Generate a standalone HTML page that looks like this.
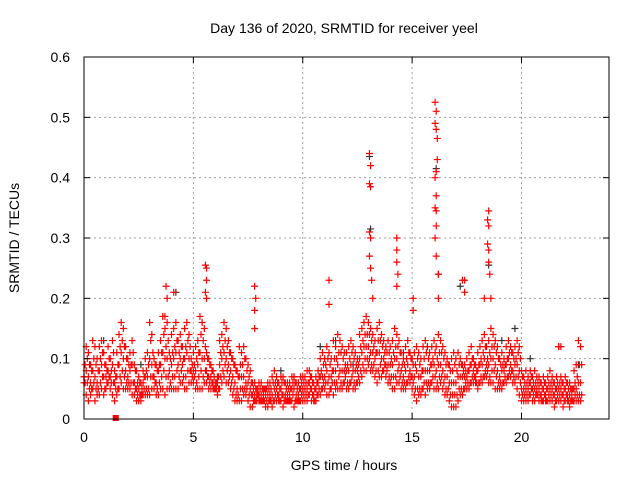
<!DOCTYPE html>
<html><head><meta charset="utf-8"><style>
body{margin:0;background:#fff;}
svg{display:block;font-family:"Liberation Sans",sans-serif;}
</style></head><body>
<svg id="chart" width="640" height="480" viewBox="0 0 640 480">
<rect width="640" height="480" fill="#fff"/>
<g id="grid"></g>
<g id="marks"></g>
<rect x="84" y="57" width="525" height="362" fill="none" stroke="#000" stroke-width="1"/>
<g id="ticks"></g>
<text x="344" y="33" font-size="14" text-anchor="middle">Day 136 of 2020, SRMTID for receiver yeel</text>
<text x="344" y="470" font-size="14" text-anchor="middle">GPS time / hours</text>
<text x="0" y="0" font-size="14" text-anchor="middle" transform="translate(19,238) rotate(-90)">SRMTID / TECUs</text>
</svg>
<script>
const xTicks=[0,5,10,15,20];
const yTicks=[0,0.1,0.2,0.3,0.4,0.5,0.6];
const yTickLabels=["0","0.1","0.2","0.3","0.4","0.5","0.6"];
const startHour=0, stepHour=0.1, offsetHour=0.05;
const redHi=[7,12,11,9,13,12,10,12,13,11, 9,12,10,13,8,11,14,16,15,12, 10,11,13,9,8,7,6,8,10,11, 16,14,10,9,11,13,17,15,16,11, 14,15,16,13,14,12,15,16,14,10, 11,12,13,17,16,15,11,10,9,8, 6,7,13,14,16,15,13,11,10,9, 8,12,11,12,10,9,8,6,6,5, 6,6,5,5,6,6,7,8,7,6, 7,7,6,6,6,7,7,6,6,7, 7,7,8,8,7,6,7,8,10,11, 10,12,11,10,13,12,14,13,12,11, 11,12,13,12,11,10,14,15,16,17, 16,15,14,13,15,16,14,13,12,13, 12,13,15,14,13,11,10,12,13,11, 10,11,12,11,10,12,13,12,11,12, 13,12,14,13,12,11,10,9,10,11, 10,11,10,9,9,10,11,12,10,9, 11,12,13,14,12,13,15,14,13,12, 10,11,10,12,13,12,11,12,13,12, 8,7,8,7,8,7,8,7,7,6, 7,6,7,8,7,6,7,12,7,6, 7,6,6,5,8,9,13,12];
const redUp=[9,10,9,8,10,9,8,10,11,9, 8,10,8,11,7,9,12,13,12,10, 9,9,11,8,6,6,5,7,8,9, 13,11,9,8,9,11,14,12,13,10, 11,12,13,11,12,10,12,13,12,9, 9,10,11,14,13,12,10,9,8,7, 6,7,11,12,13,12,11,10,9,8, 7,9,9,10,8,7,6,5,5,5, 5,5,5,5,5,5,6,6,6,5, 6,6,5,5,5,6,6,5,5,6, 6,6,6,7,6,5,6,7,8,9, 9,10,9,8,10,10,11,11,10,9, 9,10,11,10,9,9,12,13,14,14, 14,13,12,11,13,13,12,11,11,11, 10,11,12,12,11,9,9,10,11,10, 9,9,10,9,8,10,11,10,9,10, 11,10,11,11,10,9,9,8,8,9, 8,9,9,8,8,8,9,10,9,8, 9,10,11,12,10,11,12,12,11,10, 9,9,9,10,11,11,10,10,11,10, 7,6,6,6,7,6,6,6,6,5, 6,5,6,6,6,5,6,6,6,5, 6,5,5,5,6,7,9,9];
const redMid=[7,8,7,6,8,7,6,8,9,7, 7,8,7,9,6,7,9,11,10,8, 7,8,9,6,5,5,4,6,7,7, 10,9,7,6,8,9,11,10,10,8, 9,10,11,9,10,9,10,11,10,8, 8,8,9,11,10,10,8,7,7,6, 5,6,9,10,11,10,9,8,7,6, 5,7,7,7,6,6,5,4,4,4, 4,4,4,4,4,4,4,5,5,4, 5,4,4,4,4,5,5,4,4,5, 5,5,5,6,5,4,5,6,7,7, 7,8,7,7,8,8,9,8,8,8, 8,8,9,8,8,8,10,11,12,12, 12,11,11,10,11,11,10,10,9,9, 9,9,10,10,9,8,7,8,9,8, 7,7,8,7,7,8,8,8,8,9, 9,8,9,9,8,7,7,6,6,6, 6,7,7,7,7,7,8,9,8,7, 8,9,9,10,9,9,10,10,9,8, 7,8,8,9,10,9,8,9,9,8, 5,5,5,5,6,5,5,5,5,4, 5,4,5,5,5,4,5,5,5,4, 5,4,4,4,5,5,6,6];
const redDown=[6,6,5,5,6,5,5,6,7,5, 6,7,6,6,5,5,7,8,7,6, 6,6,6,5,4,4,4,5,5,5, 7,7,6,5,6,7,8,7,7,6, 7,7,8,7,8,7,7,8,8,7, 7,6,7,8,7,8,7,6,6,5, 5,5,7,8,9,8,7,6,5,4, 4,5,5,5,5,4,4,3,3,4, 3,3,3,3,3,3,3,4,4,3, 4,3,3,3,3,4,3,3,3,4, 4,4,4,5,4,3,4,5,5,6, 6,6,5,6,6,6,7,6,6,7, 6,6,7,6,6,7,8,9,10,10, 10,9,9,8,8,9,8,9,8,7, 7,7,7,8,7,6,6,6,7,7, 6,5,5,5,5,6,6,6,6,7, 7,6,7,7,6,5,5,4,4,4, 4,5,5,5,6,6,6,7,7,6, 6,7,7,8,8,7,8,8,7,6, 6,6,7,7,8,8,7,7,7,6, 4,4,4,4,5,4,4,4,4,3, 4,3,4,4,4,3,4,4,4,3, 4,3,3,3,4,4,4,4];
const redLo=[6,4,3,4,5,3,4,4,5,4, 5,6,5,4,3,4,5,6,5,5, 5,5,4,4,3,3,3,4,4,4, 4,5,5,4,4,5,5,4,5,5, 5,5,5,5,6,6,5,5,6,6, 6,5,5,5,5,6,6,5,5,5, 5,4,5,6,7,6,6,5,4,3, 3,3,3,4,4,3,2,2,3,3, 3,3,3,2,2,3,2,3,3,3, 3,2,3,3,3,3,2,3,3,3, 3,3,3,4,3,3,3,4,4,5, 5,4,4,5,4,5,5,5,5,6, 5,5,6,5,5,6,6,7,8,8, 9,8,8,7,6,7,7,8,7,6, 6,5,5,6,6,5,5,5,6,6, 5,4,3,4,4,5,4,5,5,6, 5,5,5,6,5,4,4,3,2,2, 2,3,4,4,5,5,5,6,6,6, 5,6,6,7,7,6,6,6,5,5, 5,5,6,6,7,7,6,6,5,4, 3,3,3,3,4,3,3,4,3,3, 3,3,3,3,3,2,3,3,3,2, 3,3,2,3,3,3,3,3];
const spikeHours=[3.75,3.8,3.7,4.1,5.55,5.6,5.6,5.55,5.6,7.8,7.85,7.8,7.8,13.05,13.1,13.05,13.1,13.05,13.1,13.05,13.1,13.15,13.2,11.2,11.2,14.3,14.3,14.3,14.35,14.3,15.05,15.05,16.05,16.1,16.05,16.1,16.15,16.15,16.1,16.05,16.1,16.05,16.1,16.1,16.05,16.1,16.2,16.2,17.3,17.4,17.4,18.5,18.45,18.5,18.45,18.5,18.5,18.55,18.6,18.3,21.8];
const spikeValues=[0.22,0.2,0.17,0.21,0.255,0.25,0.23,0.21,0.2,0.22,0.2,0.18,0.15,0.44,0.42,0.39,0.385,0.31,0.3,0.27,0.25,0.23,0.2,0.23,0.19,0.3,0.28,0.26,0.24,0.22,0.2,0.18,0.525,0.51,0.49,0.48,0.465,0.43,0.41,0.4,0.37,0.35,0.345,0.32,0.3,0.27,0.24,0.2,0.23,0.23,0.21,0.345,0.33,0.32,0.29,0.28,0.26,0.24,0.2,0.2,0.12];
const blackHours=[13.05,16.1,16.2,18.5,13.1,4.2,21.7,17.2,19.7,0.9,2.6,9.0,9.6,10.8,11.5,12.3,14.6,15.7,17.8,19.1,20.4,22.6];
const blackValues=[0.435,0.415,0.24,0.255,0.315,0.21,0.12,0.22,0.15,0.13,0.09,0.08,0.07,0.12,0.13,0.09,0.11,0.12,0.1,0.13,0.1,0.09];
const squareHour=1.45, squareValue=0.0;

const X0=84,X1=609,Y0=419,Y1=57,XMAX=24,YMAX=0.6;
const xs=h=>X0+(X1-X0)*h/XMAX;
const ys=v=>Y0-(Y0-Y1)*v/YMAX;
const NS="http://www.w3.org/2000/svg";
const grid=document.getElementById('grid'),marks=document.getElementById('marks'),ticks=document.getElementById('ticks');
function mk(tag,attrs,parent){const e=document.createElementNS(NS,tag);for(const k in attrs)e.setAttribute(k,attrs[k]);parent.appendChild(e);return e;}
yTicks.forEach((v,i)=>{
  const y=ys(v);
  if(i>0&&i<yTicks.length-1){const g=mk('line',{x1:X0,x2:X1,y1:y,y2:y,stroke:'#a0a0a0','stroke-dasharray':'2,3'},grid);
  
  }
  const t1=mk('line',{x1:X0,x2:X0+6,y1:y,y2:y,stroke:'#000'},ticks);
  
  
  const t2=mk('line',{x1:X1-6,x2:X1,y1:y,y2:y,stroke:'#000'},ticks);
  
  
  const l=mk('text',{x:X0-14,y:y+5,'font-size':14,'text-anchor':'end'},ticks);
  l.textContent=yTickLabels[i];
  
  
});
xTicks.forEach(h=>{
  const x=xs(h);
  if(h>0){const g=mk('line',{x1:x,x2:x,y1:Y1,y2:Y0,stroke:'#a0a0a0','stroke-dasharray':'2,3'},grid);
  
  }
  const t1=mk('line',{x1:x,x2:x,y1:Y0-6,y2:Y0,stroke:'#000'},ticks);
  
  
  const t2=mk('line',{x1:x,x2:x,y1:Y1,y2:Y1+6,stroke:'#000'},ticks);
  
  
  const l=mk('text',{x:x,y:Y0+23,'font-size':14,'text-anchor':'middle'},ticks);
  l.textContent=String(h);
  
  
});
function plus(h,v,color,name){
  const x=xs(h),y=ys(v);
  const p=mk('path',{d:`M${x-3.5} ${y}h7M${x} ${y-3.5}v7`,stroke:color,'stroke-width':1.2,fill:'none'},marks);
  
  
}
blackHours.forEach((h,i)=>plus(h,blackValues[i],'#333','black-point'));
[redHi,redMid,redLo].forEach(arr=>arr.forEach((v,i)=>plus(startHour+i*stepHour,v/100,'#ff0000','red-point')));
[redUp,redDown].forEach(arr=>arr.forEach((v,i)=>plus(startHour+i*stepHour+offsetHour,v/100,'#ff0000','red-point')));
spikeHours.forEach((h,i)=>plus(h,spikeValues[i],'#ff0000','red-spike-point'));
const sq=mk('rect',{x:xs(squareHour)-3,y:ys(squareValue)-4,width:6,height:6,fill:'#ff0000'},marks);


</script>
</body></html>
